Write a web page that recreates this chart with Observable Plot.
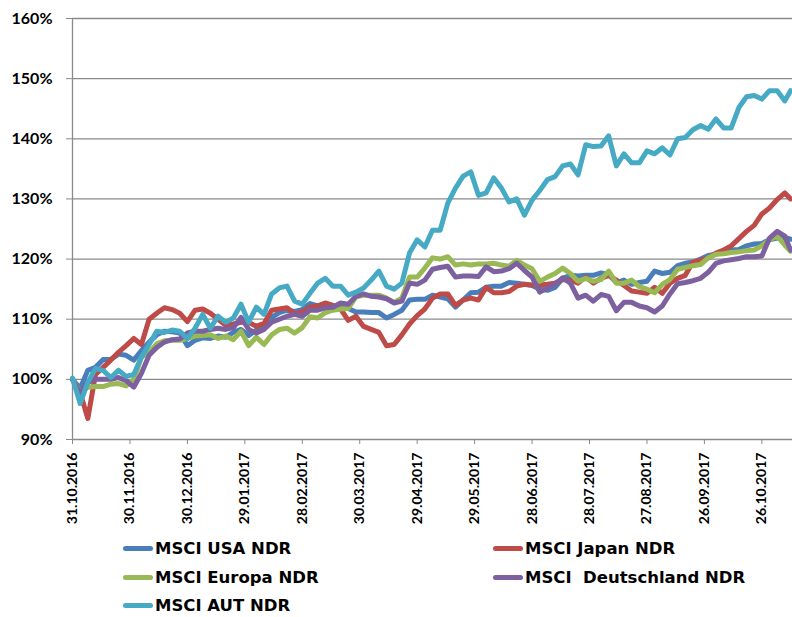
<!DOCTYPE html>
<html><head><meta charset="utf-8">
<script src="https://cdn.jsdelivr.net/npm/d3@7"></script>
<script src="https://cdn.jsdelivr.net/npm/@observablehq/plot@0.6"></script>
<style>
body{margin:0;background:#fff;}
#chart{position:relative;width:792px;height:535px;}
#legend{position:relative;width:792px;height:82px;font-family:"DejaVu Sans";font-weight:bold;font-size:16.5px;color:#000;}
.item{position:absolute;display:flex;align-items:center;height:22px;white-space:pre;}
.sw{width:30px;height:5px;border-radius:3px;margin-right:2px;}
</style></head><body>
<div id="chart"></div>
<div id="legend"></div>
<script>
const dates = ["2016-10-31","2016-11-04","2016-11-08","2016-11-12","2016-11-16","2016-11-20","2016-11-24","2016-11-28","2016-12-02","2016-12-06","2016-12-10","2016-12-14","2016-12-18","2016-12-22","2016-12-26","2016-12-30","2017-01-03","2017-01-07","2017-01-11","2017-01-15","2017-01-19","2017-01-23","2017-01-27","2017-01-31","2017-02-04","2017-02-08","2017-02-12","2017-02-16","2017-02-20","2017-02-24","2017-02-28","2017-03-04","2017-03-08","2017-03-12","2017-03-16","2017-03-20","2017-03-24","2017-03-28","2017-04-01","2017-04-05","2017-04-09","2017-04-13","2017-04-17","2017-04-21","2017-04-25","2017-04-29","2017-05-03","2017-05-07","2017-05-11","2017-05-15","2017-05-19","2017-05-23","2017-05-27","2017-05-31","2017-06-04","2017-06-08","2017-06-12","2017-06-16","2017-06-20","2017-06-24","2017-06-28","2017-07-02","2017-07-06","2017-07-10","2017-07-14","2017-07-18","2017-07-22","2017-07-26","2017-07-30","2017-08-03","2017-08-07","2017-08-11","2017-08-15","2017-08-19","2017-08-23","2017-08-27","2017-08-31","2017-09-04","2017-09-08","2017-09-12","2017-09-16","2017-09-20","2017-09-24","2017-09-28","2017-10-02","2017-10-06","2017-10-10","2017-10-14","2017-10-18","2017-10-22","2017-10-26","2017-10-30","2017-11-03","2017-11-07","2017-11-10"];

const usa = [100.0,98.5,101.5,102.0,103.3,103.3,104.2,104.0,103.2,104.8,
106.2,107.4,108.0,107.9,107.7,105.6,106.5,106.9,106.8,107.2,
107.0,107.8,108.3,107.3,108.2,108.8,110.3,111.1,111.5,111.3,
111.6,112.6,112.2,112.6,112.0,112.0,111.8,111.2,111.2,111.1,
111.1,110.2,110.8,111.5,113.2,113.3,113.3,114.0,113.7,113.4,
112.0,113.2,114.4,114.5,115.3,115.5,115.5,116.1,116.0,115.8,
115.6,115.0,114.8,115.3,116.8,117.3,117.2,117.3,117.3,117.7,
117.4,116.1,116.5,115.8,116.1,116.3,118.0,117.6,117.8,118.9,
119.3,119.5,120.0,120.6,120.8,121.3,121.5,121.6,122.2,122.5,
122.6,123.2,123.5,123.6,123.3];

const japan = [100.0,97.8,93.5,100.8,102.0,103.2,104.5,105.6,106.8,105.8,
110.0,111.0,111.9,111.6,111.0,109.6,111.5,111.7,111.0,110.0,
109.0,109.2,109.5,109.5,108.8,109.3,111.5,111.7,111.9,110.9,
111.2,112.0,112.2,112.7,112.3,111.7,109.8,110.5,108.8,108.3,
107.8,105.6,105.8,107.4,109.2,110.6,111.7,113.5,114.2,114.2,
112.3,113.2,113.5,113.2,115.3,114.4,114.4,114.6,115.5,115.8,
115.7,115.7,115.8,116.0,116.6,116.5,116.0,117.0,116.0,116.8,
117.3,116.5,115.6,114.7,114.5,114.3,115.3,114.3,116.0,116.8,
117.3,119.5,119.8,120.2,121.0,121.5,122.2,123.4,124.6,125.6,
127.5,128.5,129.9,131.0,130.0];

const europa = [100.0,97.8,98.7,98.8,98.8,99.2,99.3,98.9,100.0,103.7,
104.4,105.9,106.4,106.5,106.5,106.8,107.2,107.3,107.4,106.8,
107.2,106.6,108.0,105.6,107.0,105.8,107.4,108.3,108.5,107.7,
108.6,110.4,110.2,111.1,111.5,111.7,111.8,113.7,114.0,114.0,
114.0,113.5,112.8,113.5,117.0,117.0,118.5,120.2,120.0,120.4,
119.0,119.2,119.0,119.2,119.2,119.3,119.0,118.8,119.8,119.0,
118.4,116.3,117.0,117.6,118.5,117.6,116.3,116.8,116.3,116.6,
118.0,116.0,116.0,116.5,115.4,115.0,114.4,115.8,116.6,118.3,
118.6,118.9,119.1,120.2,120.8,120.9,121.1,121.2,121.4,121.5,
122.2,123.2,123.8,122.3,121.3];

const deutschland = [100.0,97.6,99.5,100.0,100.0,100.0,100.3,99.8,98.7,101.0,
104.0,105.3,106.2,106.6,106.7,107.7,108.0,108.0,108.3,108.5,
108.3,108.6,110.3,108.3,107.7,108.3,109.5,110.0,110.5,110.8,
110.5,111.5,111.5,111.9,112.0,112.7,112.5,113.8,114.2,113.8,
113.7,113.4,112.7,113.0,116.0,115.8,116.5,118.3,118.6,118.8,
117.0,117.2,117.2,117.1,118.7,117.9,118.0,118.4,119.3,118.1,
117.0,114.5,115.2,115.8,116.9,116.0,113.5,114.0,113.0,114.1,
113.8,111.4,112.8,112.8,112.2,111.9,111.2,112.2,114.2,115.9,
116.1,116.4,116.8,117.8,119.3,119.7,119.9,120.1,120.4,120.4,
120.5,123.5,124.6,123.8,121.5];

const aut = [100.2,96.0,99.5,101.8,101.5,100.3,101.5,100.5,100.8,103.7,
105.8,108.0,107.8,108.2,108.0,106.8,108.5,110.8,108.5,110.5,
109.5,110.2,112.5,109.5,112.0,110.8,114.2,115.2,115.5,113.0,
112.5,114.3,116.0,116.8,115.5,115.5,114.0,114.5,115.2,116.5,
118.0,115.5,115.0,116.0,121.0,123.2,122.0,124.8,124.8,129.3,
131.8,133.8,134.5,130.6,131.0,133.5,131.8,129.5,130.0,127.3,
129.8,131.4,133.2,133.7,135.5,135.8,134.0,139.0,138.7,138.8,
140.5,135.5,137.5,136.0,136.0,138.0,137.5,138.5,137.3,140.0,
140.2,141.5,142.2,141.6,143.3,141.8,141.8,145.2,147.0,147.2,
146.6,148.0,148.0,146.3,148.0];

const seriesNames = ["MSCI USA NDR","MSCI Japan NDR","MSCI Europa NDR","MSCI  Deutschland NDR","MSCI AUT NDR"];
const seriesColors = ["#4A7EBB","#BE4B48","#98B954","#7D60A0","#46AAC5"];
const yTicks = [90,100,110,120,130,140,150,160];
const xTickLabels = ["31.10.2016","30.11.2016","30.12.2016","29.01.2017","28.02.2017","30.03.2017","29.04.2017","29.05.2017","28.06.2017","28.07.2017","27.08.2017","26.09.2017","26.10.2017"];
const xDomainLabels = ["31.10.2016","11.11.2017"];

const parseTick = d3.utcParse("%d.%m.%Y");
const parseIso = d3.utcParse("%Y-%m-%d");
const seriesValues = [usa, japan, europa, deutschland, aut];
const rows = [];
seriesValues.forEach((vals, i) => {
  vals.forEach((v, j) => rows.push({date: parseIso(dates[j]), value: v, series: seriesNames[i]}));
});
const xTicks = xTickLabels.map(parseTick);
const xDomain = xDomainLabels.map(parseTick);

const plot = Plot.plot({
  width: 792, height: 535,
  marginTop: 18, marginRight: 0, marginBottom: 96, marginLeft: 72,
  style: {fontFamily: "Lato", fontWeight: "bold", color: "#000", background: "#fff", overflow: "visible"},
  x: {type: "utc", domain: xDomain},
  y: {domain: [90, 160]},
  color: {domain: seriesNames, range: seriesColors},
  marks: [
    Plot.gridY(yTicks, {stroke: "#8a8a8a", strokeOpacity: 1, strokeWidth: 1.3}),
    Plot.ruleX([xDomain[0]], {stroke: "#8a8a8a", strokeWidth: 1.3}),
    Plot.axisY(yTicks, {tickSize: 6, tickPadding: 14, tickFormat: d => d + "%", fontSize: 16, stroke: "#8a8a8a", label: null}),
    Plot.axisX(xTicks, {tickSize: 5, tickPadding: 8, tickRotate: -90, tickFormat: d3.utcFormat("%d.%m.%Y"), fontSize: 14, stroke: "#8a8a8a", label: null}),
    Plot.line(rows, {x: "date", y: "value", z: "series", stroke: "series", strokeWidth: 5, strokeLinejoin: "round", strokeLinecap: "round"})
  ]
});
document.getElementById("chart").appendChild(plot);

const legendPos = [[123, 548], [493, 548], [123, 577], [493, 577], [123, 605]];
const legend = document.getElementById("legend");
seriesNames.forEach((name, i) => {
  const [lx, ly] = legendPos[i];
  const item = document.createElement("div");
  item.className = "item";
  item.style.left = lx + "px";
  item.style.top = (ly - 535 - 11) + "px";
  const sw = document.createElement("span");
  sw.className = "sw";
  sw.style.background = seriesColors[i];
  const tx = document.createElement("span");
  tx.textContent = name;
  item.appendChild(sw);
  item.appendChild(tx);
  legend.appendChild(item);
});
</script>
</body></html>
